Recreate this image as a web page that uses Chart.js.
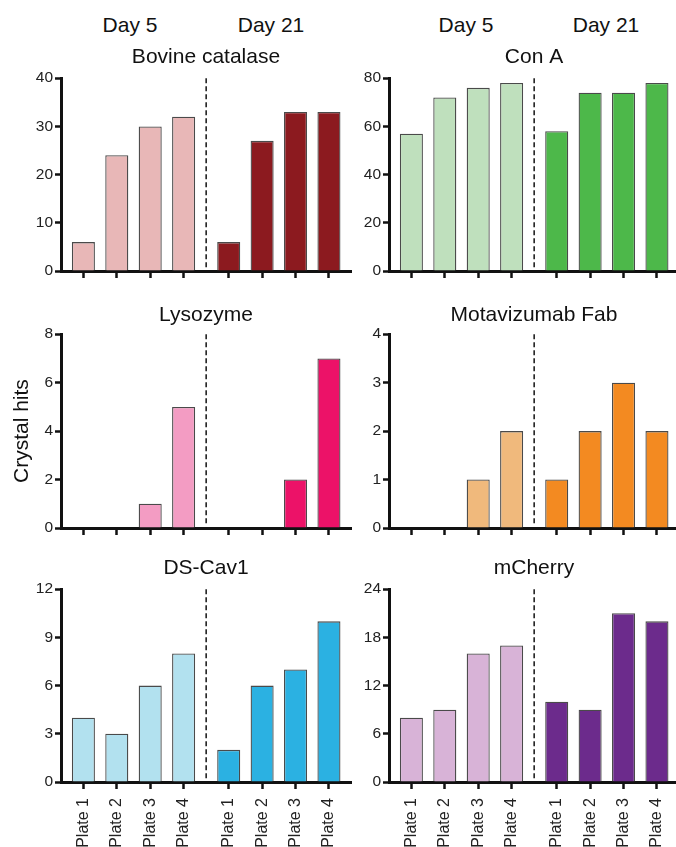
<!DOCTYPE html>
<html>
<head>
<meta charset="utf-8">
<script src="https://cdn.jsdelivr.net/npm/chart.js@4.4.1/dist/chart.umd.min.js"></script>
<style>
  body { margin: 0; width: 676px; height: 847px; overflow: hidden; background: #fff; position: relative;
         font-family: "Liberation Sans", Arial, sans-serif; }
  canvas { position: absolute; }
  .day { position: absolute; top: 14px; font-size: 21px; line-height: 21px; color: #111;
         transform: translateX(-50%); white-space: nowrap; }
</style>
</head>
<body>
<div class="day" style="left:130px">Day 5</div>
<div class="day" style="left:271px">Day 21</div>
<div class="day" style="left:466px">Day 5</div>
<div class="day" style="left:606px">Day 21</div>
<script>
// ---- data ----
const PROTEINS = ['Bovine catalase', 'Con A', 'Lysozyme', 'Motavizumab Fab', 'DS-Cav1', 'mCherry'];
const PLATES = ['Plate 1', 'Plate 2', 'Plate 3', 'Plate 4'];
const DAYS = ['Day 5', 'Day 21'];

const catalaseDay5 = [6, 24, 30, 32];
const catalaseDay21 = [6, 27, 33, 33];
const conADay5 = [57, 72, 76, 78];
const conADay21 = [58, 74, 74, 78];
const lysozymeDay5 = [0, 0, 1, 5];
const lysozymeDay21 = [0, 0, 2, 7];
const motaDay5 = [0, 0, 1, 2];
const motaDay21 = [1, 2, 3, 2];
const dsCavDay5 = [4, 3, 6, 8];
const dsCavDay21 = [2, 6, 7, 10];
const cherryDay5 = [8, 9, 16, 17];
const cherryDay21 = [10, 9, 21, 20];

const Y_MAX = [40, 80, 8, 4, 12, 24];
const Y_STEP = [10, 20, 2, 1, 3, 6];

// ---- layout ----
const X_GAP = 0.35; // extra room between the two day groups
const xPos = (day, i) => i + 1 + day * (4 + X_GAP);
const TICK_X = [0, 1].flatMap(d => PLATES.map((_, i) => xPos(d, i)));
const DIVIDER = 4 + (1 + X_GAP) / 2;

const COLS = [0, 328];
const ROWS = [
  { top: 45, height: 245, titlePad: 8, xAxisH: 19 },
  { top: 303, height: 244, titlePad: 6, xAxisH: 19 },
  { top: 556, height: 291, titlePad: 8, xAxisH: 65 }
];

const panels = [
  { day5: catalaseDay5, day21: catalaseDay21, light: '#e8b7b7', dark: '#8c1a1f' },
  { day5: conADay5, day21: conADay21, light: '#bfe0bd', dark: '#4db84a' },
  { day5: lysozymeDay5, day21: lysozymeDay21, light: '#f39cc3', dark: '#ec1268' },
  { day5: motaDay5, day21: motaDay21, light: '#f0b97c', dark: '#f38a21' },
  { day5: dsCavDay5, day21: dsCavDay21, light: '#b2e1ef', dark: '#2bb1e2' },
  { day5: cherryDay5, day21: cherryDay21, light: '#d8b3d7', dark: '#6c2b8c' }
];

Chart.defaults.font.family = '"Liberation Sans", Arial, sans-serif';
Chart.defaults.color = '#222';

const dividerPlugin = {
  id: 'divider',
  afterDatasetsDraw(chart, args, opts) {
    const { ctx, chartArea, scales } = chart;
    const px = scales.x.getPixelForValue(opts.value);
    ctx.save();
    ctx.setLineDash([5, 3]);
    ctx.lineWidth = 1.6;
    ctx.strokeStyle = '#222';
    ctx.beginPath();
    ctx.moveTo(px, chartArea.top);
    ctx.lineTo(px, chartArea.bottom - 3);
    ctx.stroke();
    ctx.restore();
  }
};

panels.forEach((p, k) => {
  const row = ROWS[Math.floor(k / 2)];
  const showPlates = k >= 4;
  const canvas = document.createElement('canvas');
  canvas.width = 356;
  canvas.height = row.height;
  canvas.style.left = COLS[k % 2] + 'px';
  canvas.style.top = row.top + 'px';
  document.body.appendChild(canvas);

  const bars = (vals, day, color) => ({
    label: DAYS[day],
    data: vals.map((v, i) => ({ x: xPos(day, i), y: v })),
    backgroundColor: color,
    borderColor: '#4a4a4a',
    borderWidth: 1.3,
    grouped: false,
    categoryPercentage: 1,
    barPercentage: 0.69
  });

  new Chart(canvas, {
    type: 'bar',
    data: { datasets: [bars(p.day5, 0, p.light), bars(p.day21, 1, p.dark)] },
    options: {
      responsive: false,
      animation: false,
      layout: { padding: { left: 0, right: 5, top: 0, bottom: 0 }, autoPadding: false },
      plugins: {
        legend: { display: false },
        tooltip: { enabled: false },
        title: {
          display: true,
          text: PROTEINS[k],
          fullSize: false,
          color: '#111',
          font: { size: 21, weight: 'normal' },
          padding: { top: 0, bottom: row.titlePad }
        },
        divider: { value: DIVIDER }
      },
      scales: {
        x: {
          type: 'linear',
          min: 0.33,
          max: 9.01,
          offset: false,
          z: 1,
          afterBuildTicks: s => { s.ticks = TICK_X.map(v => ({ value: v })); },
          afterFit: s => { s.height = row.xAxisH; s.paddingLeft = 0; s.paddingRight = 0; },
          grid: { offset: false, drawOnChartArea: false, tickLength: 7, tickWidth: 2.5, tickColor: '#111' },
          border: { display: true, color: '#111', width: 3 },
          ticks: {
            autoSkip: false,
            minRotation: showPlates ? 90 : 0,
            maxRotation: showPlates ? 90 : 0,
            padding: 9,
            font: { size: 16 },
            callback: (v, i) => showPlates ? PLATES[i % 4] : ''
          }
        },
        y: {
          min: 0,
          max: Y_MAX[k],
          z: 1,
          afterFit: s => { s.width = 61; s.paddingTop = 0; s.paddingBottom = 0; },
          grid: { drawOnChartArea: false, tickLength: 6, tickWidth: 2.5, tickColor: '#111' },
          border: { display: true, color: '#111', width: 3 },
          ticks: { stepSize: Y_STEP[k], padding: 2, font: { size: 15.5 } },
          title: {
            display: k === 2,
            text: 'Crystal hits',
            color: '#111',
            font: { size: 21 },
            padding: { top: 10, bottom: 0 }
          }
        }
      }
    },
    plugins: [dividerPlugin]
  });
});
</script>
</body>
</html>
